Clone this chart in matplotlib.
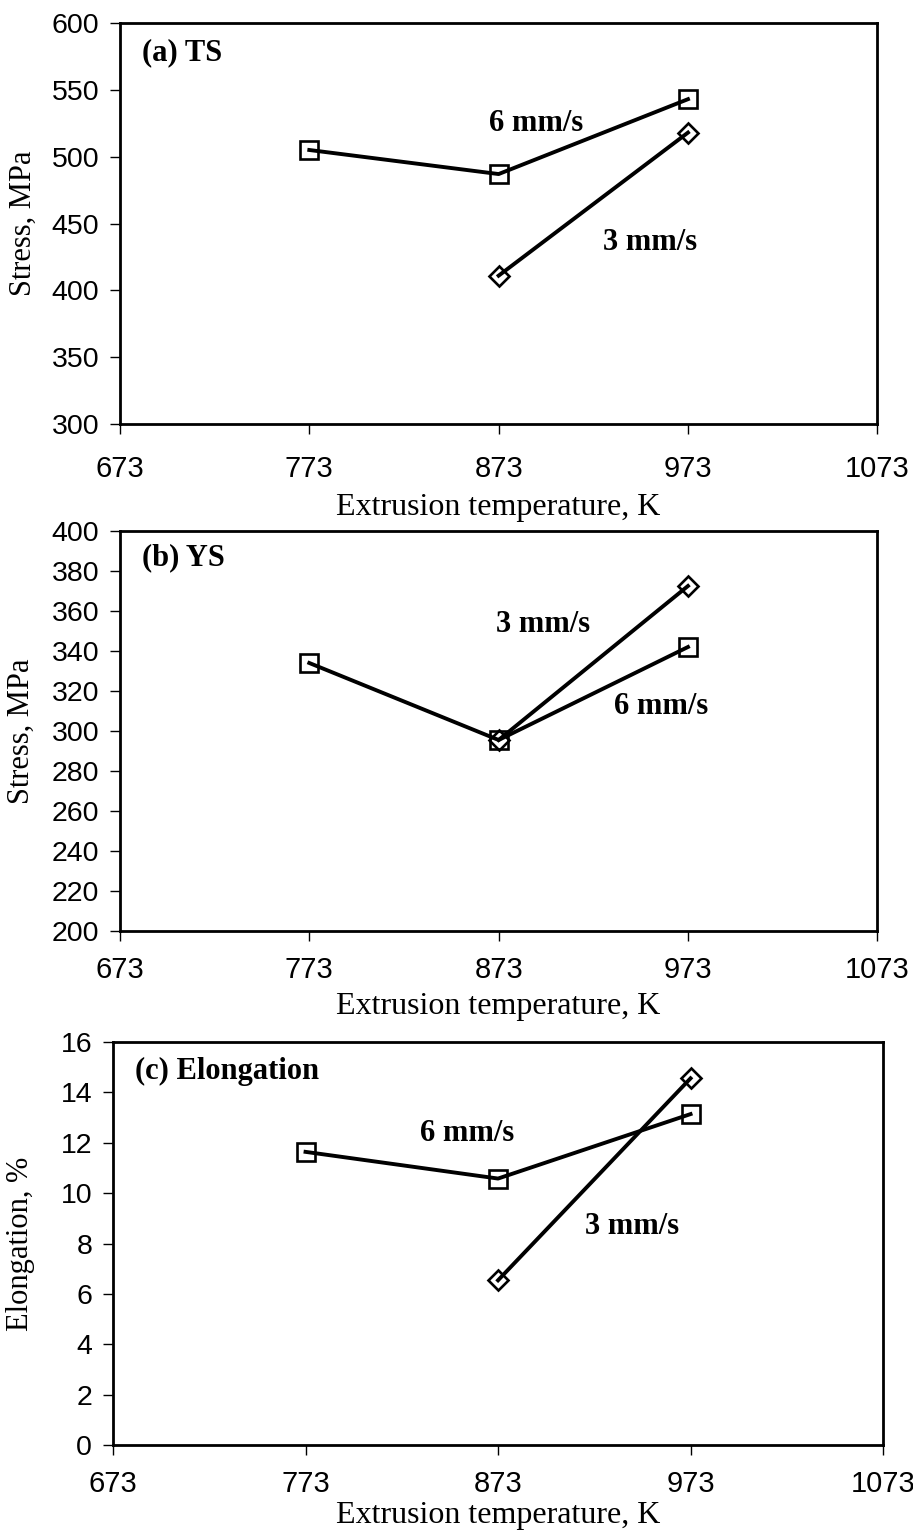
import matplotlib.pyplot as plt

# extrusion temperature, K
temps_6 = [773, 873, 973]
temps_3 = [873, 973]
xticks = [673, 773, 873, 973, 1073]

# (a) tensile strength, MPa
ts_6 = [505, 487, 543]
ts_3 = [411, 518]
# (b) yield strength, MPa
ys_6 = [334, 295.5, 342]
ys_3 = [295.5, 372.5]
# (c) elongation, %
el_6 = [11.64, 10.58, 13.14]
el_3 = [6.54, 14.56]

plt.rcParams['font.family'] = 'Liberation Serif'
SANS = 'Liberation Sans'


def draw_panel(ax, y6, y3, ylim, yticks, ylabel, tag, tag_xy, lab6_xy, lab3_xy,
               ylab_x, xlab_y, xpad):
    ax.plot(temps_6, y6, color='black', lw=2.8, marker='s', ms=12.5,
            mfc='none', mec='black', mew=1.9, zorder=3)
    ax.plot(temps_3, y3, color='black', lw=2.8, marker='D', ms=10,
            mfc='none', mec='black', mew=1.9, zorder=4)

    ax.set_xlim(673, 1073)
    ax.set_ylim(*ylim)
    ax.set_xticks(xticks)
    ax.set_yticks(yticks)
    for lbl in ax.get_xticklabels():
        lbl.set_fontfamily(SANS)
    for lbl in ax.get_yticklabels():
        lbl.set_fontfamily(SANS)
    ax.tick_params(axis='y', direction='out', length=7, width=1, pad=8,
                   labelsize=20.5)
    ax.tick_params(axis='x', direction='out', length=7, width=1, pad=xpad,
                   labelsize=21)
    for sp in ax.spines.values():
        sp.set_linewidth(2)

    ax.set_ylabel(ylabel, fontsize=22)
    ax.yaxis.label.set_va('center')
    ax.yaxis.set_label_coords(ylab_x, 0.5)
    ax.set_xlabel('Extrusion temperature, K', fontsize=23)
    ax.xaxis.label.set_va('center')
    ax.xaxis.set_label_coords(0.5, xlab_y)

    ax.text(*tag_xy, tag, fontsize=22, fontweight='bold', ha='left', va='center')
    ax.text(*lab6_xy, '6 mm/s', fontsize=22, fontweight='bold', ha='center', va='center')
    ax.text(*lab3_xy, '3 mm/s', fontsize=22, fontweight='bold', ha='center', va='center')


fig = plt.figure(figsize=(9.13, 15.32), dpi=100)

ax_a = fig.add_axes([0.1314, 0.7232, 0.8295, 0.2618])
draw_panel(ax_a, ts_6, ts_3, (300, 600), range(300, 601, 50), 'Stress, MPa',
           '(a) TS', (684.6, 577.5), (893, 525), (953, 436),
           -0.128, -0.209, 15)

ax_b = fig.add_axes([0.1314, 0.3923, 0.8295, 0.2611])
draw_panel(ax_b, ys_6, ys_3, (200, 400), range(200, 401, 20), 'Stress, MPa',
           '(b) YS', (684.6, 386.5), (959, 312), (896.5, 353),
           -0.13, -0.19, 11)

ax_c = fig.add_axes([0.1238, 0.0568, 0.8434, 0.2630])
draw_panel(ax_c, el_6, el_3, (0, 16), range(0, 17, 2), 'Elongation, %',
           '(c) Elongation', (684.4, 14.82), (856.7, 12.37), (942.4, 8.66),
           -0.12, -0.175, 11)

fig.savefig('out.png', dpi=100)
